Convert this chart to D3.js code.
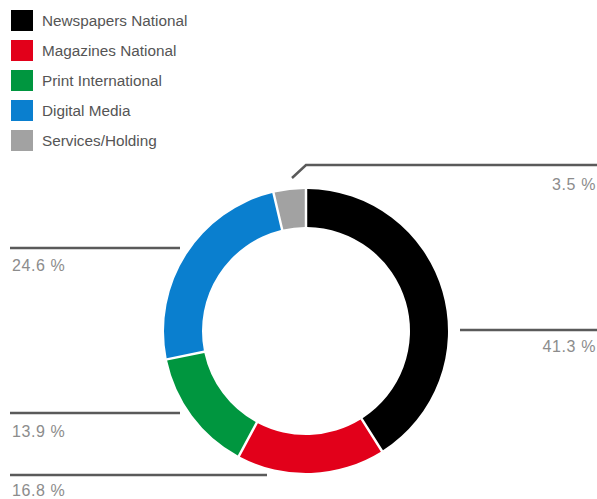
<!DOCTYPE html>
<html><head><meta charset="utf-8">
<script src="https://cdn.jsdelivr.net/npm/d3@7"></script>
<style>body{margin:0;background:#fff}svg{display:block}</style>
</head><body>
<svg id="c" width="597" height="499"></svg>
<script>
const categories = ["Newspapers National","Magazines National","Print International","Digital Media","Services/Holding"];
const values = [41.3, 16.8, 13.9, 24.6, 3.5];
const colors = ["#000000","#e2001a","#00963f","#0a7fcf","#a2a2a2"];
const labels = ["41.3 %","16.8 %","13.9 %","24.6 %","3.5 %"];

const svg = d3.select("#c");
const font = "Liberation Sans, Arial, sans-serif";

// legend
const lg = svg.append("g");
categories.forEach((c,i)=>{
  const y = 10 + i*30;
  lg.append("rect").attr("x",11).attr("y",y).attr("width",22).attr("height",21).attr("fill",colors[i]);
  lg.append("text").attr("x",42).attr("y",y+16).attr("font-family",font).attr("font-size",15.3)
    .attr("fill","#555").text(c);
});

// donut
const cx = 306, cy = 331, rO = 142, rI = 104;
const pie = d3.pie().sort(null).value(d=>d).padAngle(0.014);
const arc = d3.arc().innerRadius(rI).outerRadius(rO);
const g = svg.append("g").attr("transform",`translate(${cx},${cy})`);
g.selectAll("path").data(pie(values)).join("path").attr("d",arc).attr("fill",(d,i)=>colors[i]);

// leader lines & labels
const lineColor = "#5a5a5a";
const leaders = [
  {pts:[[460,330],[597,330]], lx:596, ly:352, anchor:"end"},
  {pts:[[10,475],[267,475]], lx:12, ly:496, anchor:"start"},
  {pts:[[10,413],[180,413]], lx:12, ly:437, anchor:"start"},
  {pts:[[10,248],[180,248]], lx:12, ly:271, anchor:"start"},
  {pts:[[292,178],[306,165],[597,165]], lx:596, ly:190, anchor:"end"}
];
const line = d3.line();
leaders.forEach((L,i)=>{
  svg.append("path").attr("d",line(L.pts)).attr("fill","none").attr("stroke",lineColor).attr("stroke-width",2.5);
  svg.append("text").attr("x",L.lx).attr("y",L.ly).attr("text-anchor",L.anchor)
    .attr("font-family",font).attr("font-size",16).attr("letter-spacing",0.6).attr("fill","#8c8c8c").text(labels[i]);
});
</script>
</body></html>
